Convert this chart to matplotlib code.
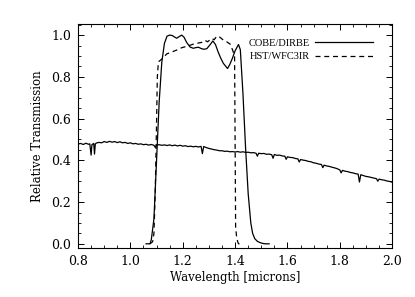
import matplotlib
matplotlib.use('Agg')
import matplotlib.pyplot as plt
from matplotlib.ticker import MultipleLocator

plt.rcParams['font.family'] = 'DejaVu Serif'

# Spectrum (relative flux), with absorption dips
spec_wave = [0.800, 0.810, 0.820, 0.830, 0.840, 0.845, 0.850, 0.853, 0.860, 0.863,
             0.866, 0.870, 0.880, 0.890, 0.900, 0.910, 0.920, 0.930, 0.940, 0.950,
             0.960, 0.970, 0.980, 0.990, 1.000, 1.010, 1.020, 1.030, 1.040, 1.050,
             1.060, 1.070, 1.080, 1.090, 1.095, 1.100, 1.110, 1.120, 1.130, 1.140,
             1.150, 1.160, 1.170, 1.180, 1.190, 1.200, 1.210, 1.220, 1.230, 1.240,
             1.250, 1.260, 1.270, 1.275, 1.280, 1.290, 1.300, 1.310, 1.320, 1.330,
             1.340, 1.350, 1.360, 1.370, 1.380, 1.390, 1.400, 1.410, 1.420, 1.430,
             1.440, 1.450, 1.460, 1.470, 1.480, 1.485, 1.490, 1.500, 1.510, 1.520,
             1.530, 1.540, 1.545, 1.550, 1.560, 1.570, 1.580, 1.590, 1.595, 1.600,
             1.610, 1.620, 1.630, 1.640, 1.645, 1.650, 1.660, 1.670, 1.680, 1.690,
             1.700, 1.710, 1.720, 1.730, 1.735, 1.740, 1.750, 1.760, 1.770, 1.780,
             1.790, 1.800, 1.805, 1.810, 1.820, 1.830, 1.840, 1.850, 1.860, 1.870,
             1.875, 1.880, 1.890, 1.900, 1.910, 1.920, 1.930, 1.940, 1.945, 1.950,
             1.960, 1.970, 1.980, 1.990, 2.000]
spec_flux = [0.478, 0.481, 0.476, 0.482, 0.477, 0.479, 0.425, 0.475, 0.481, 0.430,
             0.478, 0.483, 0.486, 0.484, 0.490, 0.486, 0.491, 0.487, 0.490, 0.485,
             0.489, 0.484, 0.486, 0.481, 0.484, 0.479, 0.481, 0.477, 0.479, 0.475,
             0.477, 0.473, 0.476, 0.472, 0.462, 0.473, 0.475, 0.472, 0.474, 0.471,
             0.474, 0.470, 0.473, 0.469, 0.472, 0.468, 0.470, 0.466, 0.468, 0.465,
             0.467, 0.464, 0.467, 0.432, 0.466, 0.461, 0.457, 0.454, 0.451, 0.449,
             0.446, 0.446, 0.443, 0.444, 0.441, 0.442, 0.440, 0.442, 0.439, 0.441,
             0.438, 0.439, 0.436, 0.437, 0.434, 0.420, 0.434, 0.432, 0.433, 0.429,
             0.430, 0.427, 0.410, 0.428, 0.424, 0.425, 0.421, 0.420, 0.405, 0.417,
             0.414, 0.413, 0.409, 0.407, 0.392, 0.404, 0.401, 0.399, 0.395, 0.393,
             0.388, 0.386, 0.382, 0.380, 0.365, 0.377, 0.373, 0.371, 0.367, 0.364,
             0.360, 0.354, 0.340, 0.352, 0.348, 0.346, 0.342, 0.340, 0.336, 0.334,
             0.296, 0.331, 0.327, 0.323, 0.321, 0.318, 0.315, 0.312, 0.300, 0.310,
             0.307, 0.305, 0.301, 0.299, 0.295]

# COBE/DIRBE band (solid)
cobe_wave = [1.060, 1.075, 1.080, 1.090, 1.100, 1.110, 1.120, 1.130, 1.140, 1.150,
             1.160, 1.170, 1.177, 1.185, 1.196, 1.205, 1.215, 1.228, 1.240, 1.250,
             1.260, 1.270, 1.280, 1.292, 1.305, 1.315, 1.325, 1.335, 1.345, 1.355,
             1.371, 1.380, 1.390, 1.400, 1.413, 1.420, 1.430, 1.440, 1.450, 1.460,
             1.467, 1.475, 1.485, 1.495, 1.505, 1.515, 1.530]
cobe_trans = [0.0, 0.0, 0.02, 0.12, 0.40, 0.68, 0.87, 0.96, 0.995, 1.0,
              0.998, 0.99, 0.985, 0.992, 1.0, 0.99, 0.965, 0.943, 0.937, 0.94,
              0.942, 0.936, 0.932, 0.935, 0.955, 0.972, 0.955, 0.92, 0.89, 0.865,
              0.84, 0.86, 0.89, 0.925, 0.955, 0.93, 0.72, 0.46, 0.24, 0.10,
              0.05, 0.025, 0.012, 0.006, 0.002, 0.0, 0.0]

# HST/WFC3IR band (dashed)
hst_wave = [1.075, 1.085, 1.090, 1.095, 1.100, 1.103, 1.107, 1.120, 1.139, 1.160,
            1.180, 1.197, 1.220, 1.241, 1.260, 1.272, 1.285, 1.295, 1.311, 1.320,
            1.330, 1.342, 1.355, 1.368, 1.381, 1.390, 1.398, 1.400, 1.402, 1.406,
            1.410, 1.413, 1.420]
hst_trans = [0.0, 0.01, 0.05, 0.25, 0.58, 0.80, 0.872, 0.885, 0.91, 0.92,
             0.93, 0.94, 0.948, 0.957, 0.962, 0.965, 0.975, 0.968, 0.984, 0.978,
             0.995, 0.99, 0.976, 0.968, 0.957, 0.93, 0.90, 0.50, 0.08, 0.03,
             0.01, 0.0, 0.0]

fig = plt.figure(figsize=(4.15, 2.97), dpi=100)
ax = fig.add_axes([0.188, 0.165, 0.757, 0.754])

ax.plot(spec_wave, spec_flux, color='black', linewidth=0.9)
ax.plot(cobe_wave, cobe_trans, color='black', linewidth=0.9, label='COBE/DIRBE')
ax.plot(hst_wave, hst_trans, color='black', linewidth=0.9, dashes=(4, 3), label='HST/WFC3IR')

ax.set_xlim(0.8, 2.0)
ax.set_ylim(-0.02, 1.053)
ax.xaxis.set_major_locator(MultipleLocator(0.2))
ax.xaxis.set_minor_locator(MultipleLocator(0.05))
ax.yaxis.set_major_locator(MultipleLocator(0.2))
ax.yaxis.set_minor_locator(MultipleLocator(0.05))
ax.tick_params(which='both', direction='in', top=True, right=True, labelsize=9)
ax.tick_params(which='major', length=4, width=0.7, pad=5)
ax.tick_params(which='minor', length=2, width=0.6)
for a in ["bottom", "top", "right", "left"]:
    ax.spines[a].set_linewidth(0.8)

ax.set_xlabel('Wavelength [microns]', fontsize=8.5, labelpad=2)
ax.set_ylabel('Relative Transmission', fontsize=8.5, labelpad=5)

ax.legend(loc='upper right', bbox_to_anchor=(0.94, 0.935), frameon=False,
          markerfirst=False, handlelength=5.6, borderpad=0,
          prop={'family': 'Liberation Serif', 'size': 7.5},
          borderaxespad=0, labelspacing=0.4, handletextpad=0.5)

fig.savefig('out.png', dpi=100)
